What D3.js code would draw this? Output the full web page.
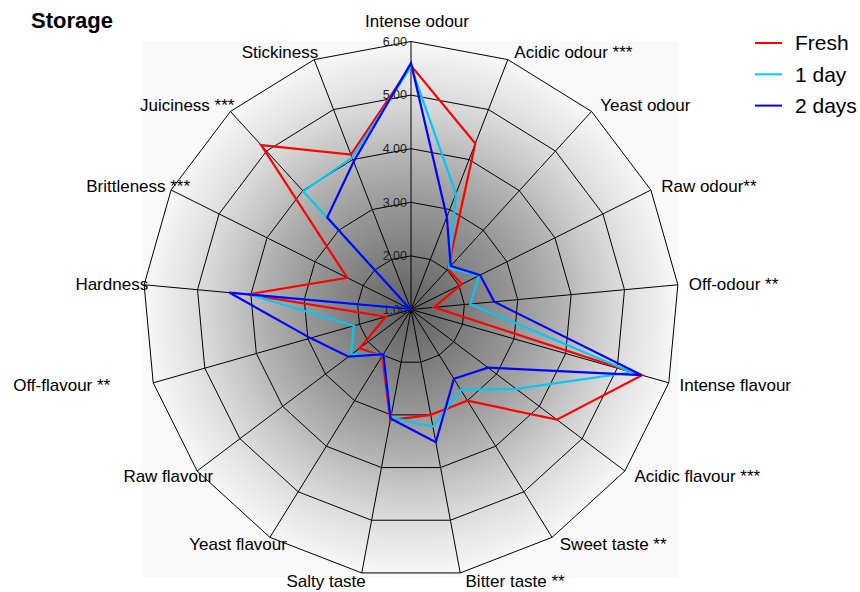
<!DOCTYPE html>
<html>
<head>
<meta charset="utf-8">
<script src="https://cdn.jsdelivr.net/npm/d3@7"></script>
<style>
  body { margin: 0; background: #fff; }
  svg { display: block; font-family: "Liberation Sans", Arial, sans-serif; }
</style>
</head>
<body>
<script>
const attributes = [
  "Intense odour", "Acidic odour ***", "Yeast odour", "Raw odour**",
  "Off-odour **", "Intense flavour", "Acidic flavour ***", "Sweet taste **",
  "Bitter taste **", "Salty taste", "Yeast flavour", "Raw flavour",
  "Off-flavour **", "Hardness", "Brittleness ***", "Juiciness ***", "Stickiness"
];
const fresh = [5.55, 4.32, 2.02, 2.06, 1.43, 5.48, 4.41, 3.0, 3.0, 3.1, 2.02, 2.2, 1.49, 4.05, 2.33, 5.15, 4.1];
const oneDay = [5.53, 3.32, 2.05, 2.42, 2.11, 5.28, 3.46, 2.76, 3.22, 3.05, 1.98, 2.4, 2.11, 4.02, 1.02, 3.98, 4.04];
const twoDays = [5.6, 2.85, 2.1, 2.44, 2.56, 5.47, 2.8, 2.52, 3.52, 3.07, 1.98, 2.46, 2.95, 4.4, 1.02, 3.32, 3.96];
const seriesNames = ["Fresh", "1 day", "2 days"];
const ticks = [1, 2, 3, 4, 5, 6];

const width = 860;
const height = 592;
const cx = 411;
const cy = 309.5;
const R = 268;
const colors = ["#ff0000", "#00c8f8", "#0000ff"];
// extra horizontal shift for a few left-hand labels
const labelShift = { 10: 13, 11: 12, 12: -47, 14: 15 };

const svg = d3.select("body").append("svg")
  .attr("width", width)
  .attr("height", height);

const r = d3.scaleLinear().domain([1, 6]).range([0, R]);
const angle = d3.scaleLinear().domain([0, attributes.length]).range([0, 2 * Math.PI]);

const defs = svg.append("defs");
const grad = defs.append("radialGradient")
  .attr("id", "bg")
  .attr("gradientUnits", "userSpaceOnUse")
  .attr("cx", cx).attr("cy", cy).attr("r", R);
[[0, "#606060"], [0.25, "#838383"], [0.5, "#a8a8a8"], [0.75, "#d6d6d6"], [1, "#f9f9f9"]]
  .forEach(([o, c]) => grad.append("stop").attr("offset", o).attr("stop-color", c));

svg.append("rect")
  .attr("x", cx - R).attr("y", cy - R)
  .attr("width", 2 * R).attr("height", 2 * R)
  .attr("fill", "url(#bg)");

const g = svg.append("g").attr("transform", `translate(${cx},${cy})`);

const ring = d3.lineRadial()
  .angle((d, i) => angle(i))
  .radius(d => r(d))
  .curve(d3.curveLinearClosed);

// tick labels along the top axis
g.selectAll(".tick")
  .data(ticks)
  .join("text")
  .attr("class", "tick")
  .attr("x", -4)
  .attr("y", d => -r(d))
  .attr("dy", "0.35em")
  .attr("text-anchor", "end")
  .attr("font-size", 12.5)
  .attr("fill", "#222")
  .text(d => d.toFixed(2));

g.selectAll(".ring")
  .data(ticks.slice(1))
  .join("path")
  .attr("class", "ring")
  .attr("d", t => ring(attributes.map(() => t)))
  .attr("fill", "none")
  .attr("stroke", "#000")
  .attr("stroke-width", 1);

g.selectAll(".spoke")
  .data(attributes)
  .join("line")
  .attr("class", "spoke")
  .attr("x1", 0).attr("y1", 0)
  .attr("x2", (d, i) => r(6) * Math.sin(angle(i)))
  .attr("y2", (d, i) => -r(6) * Math.cos(angle(i)))
  .attr("stroke", "#000")
  .attr("stroke-width", 1);

g.selectAll(".series")
  .data([fresh, oneDay, twoDays])
  .join("path")
  .attr("class", "series")
  .attr("d", ring)
  .attr("fill", "none")
  .attr("stroke", (d, i) => colors[i])
  .attr("stroke-width", 2.2)
  .attr("stroke-linejoin", "miter");

g.selectAll(".label")
  .data(attributes)
  .join("text")
  .attr("class", "label")
  .each(function (d, i) {
    const a = angle(i);
    const s = Math.sin(a);
    const c = Math.cos(a);
    const vx = r(6) * s;
    const vy = -r(6) * c;
    const t = d3.select(this);
    if (i === 0) {
      t.attr("x", vx + 6).attr("y", vy - 20).attr("text-anchor", "middle");
    } else if (s > 0) {
      t.attr("x", vx + 4 + 7 * s).attr("y", vy - 8 * c).attr("text-anchor", "start");
    } else {
      t.attr("x", vx + 4 + (labelShift[i] || 0)).attr("y", vy - 8 * c).attr("text-anchor", "end");
    }
  })
  .attr("dy", "0.35em")
  .attr("font-size", 17)
  .attr("fill", "#000")
  .text(d => d);

svg.append("text")
  .attr("x", 31)
  .attr("y", 28)
  .attr("font-size", 22)
  .attr("font-weight", "bold")
  .text("Storage");

const legend = svg.append("g").attr("transform", "translate(755,43)");
const rows = legend.selectAll("g")
  .data(seriesNames)
  .join("g")
  .attr("transform", (d, i) => `translate(0,${i * 31.3})`);
rows.append("line")
  .attr("x1", 0).attr("x2", 27)
  .attr("stroke", (d, i) => colors[i])
  .attr("stroke-width", 2);
rows.append("text")
  .attr("x", 40)
  .attr("dy", "0.35em")
  .attr("font-size", 21)
  .text(d => d);
</script>
</body>
</html>
